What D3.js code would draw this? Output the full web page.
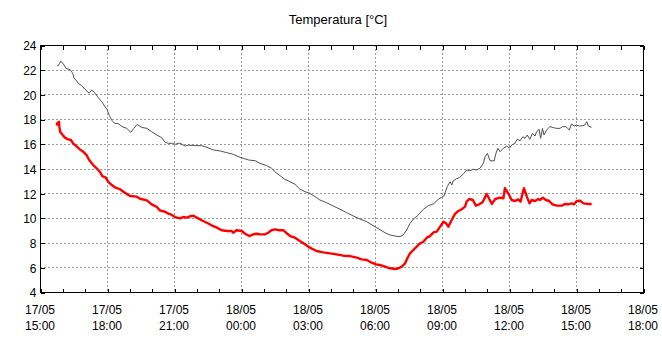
<!DOCTYPE html>
<html>
<head>
<meta charset="utf-8">
<script src="https://cdn.jsdelivr.net/npm/d3@7"></script>
<style>
  html, body { margin: 0; padding: 0; background: #fff; }
  svg { display: block; font-family: "Liberation Sans", Arial, sans-serif; }
</style>
</head>
<body>
<svg id="chart" width="662" height="342"></svg>
<script>
// Title and axis extent
const title = "Temperatura [°C]";
const xStart = "17/05 15:00";
const xEnd = "18/05 18:00";
const yTicks = [4, 6, 8, 10, 12, 14, 16, 18, 20, 22, 24];

// Series 1 (thin dark line)
const series1Times = [
  "17/05 15:46","17/05 15:51","17/05 15:56","17/05 16:03","17/05 16:10","17/05 16:21","17/05 16:28",
  "17/05 16:31","17/05 16:43","17/05 16:52","17/05 17:01","17/05 17:12","17/05 17:19","17/05 17:25",
  "17/05 17:35","17/05 17:46","17/05 17:55","17/05 18:01","17/05 18:06","17/05 18:13","17/05 18:20",
  "17/05 18:30","17/05 18:40","17/05 18:53","17/05 19:04","17/05 19:12","17/05 19:21","17/05 19:33",
  "17/05 19:47","17/05 20:00","17/05 20:14","17/05 20:27","17/05 20:36","17/05 20:45","17/05 20:56",
  "17/05 21:03","17/05 21:12","17/05 21:16","17/05 21:30","17/05 21:38","17/05 21:56","17/05 22:14",
  "17/05 22:28","17/05 22:46","17/05 23:04","17/05 23:22","17/05 23:39","17/05 23:53","18/05 00:06",
  "18/05 00:20","18/05 00:38","18/05 00:51","18/05 01:09","18/05 01:22","18/05 01:34","18/05 01:45",
  "18/05 01:58","18/05 02:12","18/05 02:25","18/05 02:38","18/05 02:52","18/05 03:05","18/05 03:19",
  "18/05 03:32","18/05 03:50","18/05 04:08","18/05 04:26","18/05 04:44","18/05 05:02","18/05 05:20",
  "18/05 05:38","18/05 05:52","18/05 06:05","18/05 06:16","18/05 06:27","18/05 06:40","18/05 06:54",
  "18/05 07:07","18/05 07:16","18/05 07:25","18/05 07:34","18/05 07:43","18/05 07:56","18/05 08:10",
  "18/05 08:23","18/05 08:37","18/05 08:50","18/05 08:59","18/05 09:05","18/05 09:11","18/05 09:14",
  "18/05 09:18","18/05 09:22","18/05 09:26","18/05 09:30","18/05 09:38","18/05 09:48","18/05 09:59",
  "18/05 10:06","18/05 10:15","18/05 10:24","18/05 10:33","18/05 10:42","18/05 10:51","18/05 10:56",
  "18/05 11:02","18/05 11:09","18/05 11:20","18/05 11:25","18/05 11:30","18/05 11:36","18/05 11:45",
  "18/05 11:54","18/05 12:01","18/05 12:07","18/05 12:16","18/05 12:22","18/05 12:30","18/05 12:37",
  "18/05 12:43","18/05 12:49","18/05 12:56","18/05 13:03","18/05 13:10","18/05 13:14","18/05 13:21",
  "18/05 13:25","18/05 13:30","18/05 13:34","18/05 13:41","18/05 13:50","18/05 13:59","18/05 14:08",
  "18/05 14:17","18/05 14:24","18/05 14:33","18/05 14:42","18/05 14:48","18/05 14:55","18/05 15:02",
  "18/05 15:09","18/05 15:18","18/05 15:24","18/05 15:29","18/05 15:33","18/05 15:42"
];
const series1Values = [
  22.30,22.40,22.70,22.45,22.10,22.00,21.70,
  21.35,20.90,20.70,20.40,20.10,20.36,20.20,
  19.80,19.40,19.00,18.74,18.30,17.90,17.66,
  17.63,17.40,17.25,16.93,17.25,17.57,17.33,
  17.25,16.98,16.71,16.50,16.12,16.04,16.04,
  15.96,16.04,16.04,15.82,15.90,15.85,15.85,
  15.72,15.50,15.42,15.28,15.15,14.96,14.83,
  14.69,14.63,14.42,14.23,14.02,13.66,13.42,
  13.12,12.93,12.72,12.34,12.12,11.99,11.72,
  11.45,11.23,10.96,10.70,10.42,10.15,9.91,
  9.69,9.43,9.20,9.00,8.80,8.62,8.53,
  8.48,8.62,9.02,9.56,9.89,10.23,10.70,
  10.99,11.13,11.50,11.67,11.77,12.26,12.53,
  12.75,12.93,12.66,12.99,13.15,13.29,13.61,
  13.88,13.82,13.94,13.88,14.02,14.42,14.96,
  15.23,14.63,14.61,15.23,15.64,15.36,15.64,
  15.82,15.64,15.90,16.04,16.36,16.25,16.57,
  16.44,16.71,16.36,16.85,16.63,16.98,17.17,
  16.44,17.25,16.71,17.12,17.39,17.31,17.25,
  17.25,17.39,17.39,17.12,17.60,17.44,17.52,
  17.44,17.47,17.52,17.79,17.44,17.34
];

// Series 2 (thick red line)
const series2Times = [
  "17/05 15:45","17/05 15:46","17/05 15:51","17/05 15:52","17/05 15:54","17/05 16:01","17/05 16:07",
  "17/05 16:16","17/05 16:23","17/05 16:29","17/05 16:39","17/05 16:47","17/05 16:56","17/05 17:05",
  "17/05 17:12","17/05 17:23","17/05 17:32","17/05 17:41","17/05 17:47","17/05 17:56","17/05 18:03",
  "17/05 18:13","17/05 18:21","17/05 18:35","17/05 18:48","17/05 19:02","17/05 19:20","17/05 19:29",
  "17/05 19:47","17/05 20:00","17/05 20:14","17/05 20:22","17/05 20:36","17/05 20:45","17/05 20:51",
  "17/05 21:03","17/05 21:16","17/05 21:25","17/05 21:34","17/05 21:43","17/05 21:52","17/05 22:01",
  "17/05 22:14","17/05 22:28","17/05 22:41","17/05 22:55","17/05 23:08","17/05 23:22","17/05 23:35",
  "17/05 23:39","17/05 23:48","18/05 00:02","18/05 00:11","18/05 00:22","18/05 00:33","18/05 00:42",
  "18/05 00:51","18/05 01:04","18/05 01:13","18/05 01:22","18/05 01:31","18/05 01:43","18/05 01:54",
  "18/05 02:01","18/05 02:12","18/05 02:25","18/05 02:38","18/05 02:52","18/05 03:05","18/05 03:23",
  "18/05 03:41","18/05 03:59","18/05 04:17","18/05 04:35","18/05 04:53","18/05 05:11","18/05 05:24",
  "18/05 05:38","18/05 05:51","18/05 06:03","18/05 06:13","18/05 06:27","18/05 06:40","18/05 06:54",
  "18/05 07:03","18/05 07:12","18/05 07:21","18/05 07:27","18/05 07:34","18/05 07:43","18/05 07:52",
  "18/05 08:01","18/05 08:10","18/05 08:19","18/05 08:28","18/05 08:37","18/05 08:46","18/05 08:55",
  "18/05 09:04","18/05 09:11","18/05 09:17","18/05 09:26","18/05 09:35","18/05 09:44","18/05 09:53",
  "18/05 10:02","18/05 10:06","18/05 10:13","18/05 10:23","18/05 10:31","18/05 10:40","18/05 10:49",
  "18/05 11:00","18/05 11:07","18/05 11:14","18/05 11:23","18/05 11:36","18/05 11:45","18/05 11:49",
  "18/05 11:58","18/05 12:07","18/05 12:16","18/05 12:25","18/05 12:31","18/05 12:40","18/05 12:48",
  "18/05 12:55","18/05 13:01","18/05 13:10","18/05 13:19","18/05 13:23","18/05 13:31","18/05 13:39",
  "18/05 13:48","18/05 13:57","18/05 14:08","18/05 14:22","18/05 14:30","18/05 14:39","18/05 14:48",
  "18/05 14:55","18/05 15:02","18/05 15:11","18/05 15:20","18/05 15:33","18/05 15:42"
];
const series2Values = [
  17.47,17.66,17.79,17.39,16.98,16.71,16.50,
  16.36,16.31,16.04,15.77,15.55,15.36,15.09,
  14.69,14.28,14.02,13.74,13.39,13.29,12.93,
  12.66,12.48,12.32,12.04,11.77,11.72,11.55,
  11.42,11.10,10.88,10.61,10.50,10.34,10.29,
  10.07,9.96,10.07,10.02,10.13,10.18,10.02,
  9.81,9.61,9.40,9.21,9.00,8.94,8.94,
  8.80,9.00,8.94,8.72,8.53,8.67,8.72,
  8.67,8.67,8.80,9.00,9.07,9.00,9.00,
  8.80,8.53,8.40,8.13,7.86,7.59,7.32,
  7.21,7.13,7.05,6.94,6.91,6.78,6.64,
  6.59,6.37,6.24,6.19,6.05,5.92,5.86,
  5.92,6.05,6.32,6.73,7.13,7.40,7.67,
  7.94,8.07,8.40,8.53,8.83,8.89,9.29,
  9.69,9.56,9.29,9.83,10.32,10.56,10.70,
  10.91,11.31,11.53,11.45,10.99,11.10,11.26,
  11.94,11.53,11.13,11.53,11.64,11.59,12.40,
  11.99,11.45,11.37,11.50,11.31,12.40,11.72,
  11.18,11.45,11.37,11.53,11.45,11.64,11.45,
  11.37,11.10,10.99,10.99,11.13,11.10,11.18,
  11.10,11.37,11.39,11.18,11.13,11.13
];

const parse = d3.timeParse("%d/%m %H:%M");
const fmtDay = d3.timeFormat("%d/%m");
const fmtHour = d3.timeFormat("%H:%M");

const svg = d3.select("#chart");
const plotLeft = 40, plotRight = 643, plotTop = 45, plotBottom = 292;

const x = d3.scaleTime().domain([parse(xStart), parse(xEnd)]).range([plotLeft, plotRight]);
const y = d3.scaleLinear().domain([d3.min(yTicks), d3.max(yTicks)]).range([plotBottom, plotTop]);

const majorX = d3.timeHour.every(3).range(x.domain()[0], d3.timeMinute.offset(x.domain()[1], 1));
const minorX = d3.timeHour.every(1).range(x.domain()[0], d3.timeMinute.offset(x.domain()[1], 1));

// Title
svg.append("text")
  .attr("x", 338).attr("y", 24)
  .attr("text-anchor", "middle")
  .attr("font-size", 13)
  .attr("fill", "#000")
  .text(title);

// Dashed grid
const grid = svg.append("g").attr("shape-rendering", "crispEdges")
  .attr("stroke", "#9a9a9a").attr("stroke-width", 1).attr("stroke-dasharray", "2,2");
grid.selectAll("line.gx").data(majorX.slice(1, -1)).join("line")
  .attr("x1", d => Math.round(x(d)) + 0.5).attr("x2", d => Math.round(x(d)) + 0.5)
  .attr("y1", plotTop).attr("y2", plotBottom);
grid.selectAll("line.gy").data(yTicks.slice(1, -1)).join("line")
  .attr("y1", d => Math.round(y(d)) + 0.5).attr("y2", d => Math.round(y(d)) + 0.5)
  .attr("x1", plotLeft).attr("x2", plotRight);

// Axes: inward ticks on all four sides
const axB = d3.axisBottom(x).tickValues(minorX).tickSizeInner(-4).tickSizeOuter(0).tickFormat("");
const axT = d3.axisTop(x).tickValues(minorX).tickSizeInner(-4).tickSizeOuter(0).tickFormat("");
const axL = d3.axisLeft(y).tickValues(yTicks).tickSizeInner(-4).tickSizeOuter(0).tickPadding(6);
const axR = d3.axisRight(y).tickValues(yTicks).tickSizeInner(-4).tickSizeOuter(0).tickFormat("");

function styleAxis(g) {
  g.attr("shape-rendering", "crispEdges");
  g.select(".domain").remove();
  g.selectAll("line").attr("stroke", "#000");
  g.selectAll("text").attr("font-size", 12).attr("fill", "#000")
    .attr("font-family", "'Liberation Sans', Arial, sans-serif");
}

svg.append("g").attr("transform", `translate(0.5,${plotBottom + 0.5})`).call(axB).call(styleAxis);
svg.append("g").attr("transform", `translate(0.5,${plotTop + 0.5})`).call(axT).call(styleAxis);
svg.append("g").attr("transform", `translate(${plotLeft + 0.5},0.5)`).call(axL).call(styleAxis)
  .selectAll("text").attr("x", -4).attr("dy", "0.36em");
svg.append("g").attr("transform", `translate(${plotRight + 0.5},0.5)`).call(axR).call(styleAxis);

// Two-line date/time labels under the plot
const xl = svg.append("g").attr("font-size", 12).attr("fill", "#000").attr("text-anchor", "middle");
majorX.forEach(d => {
  const t = xl.append("text").attr("x", x(d));
  t.append("tspan").attr("x", x(d)).attr("y", 314).text(fmtDay(d));
  t.append("tspan").attr("x", x(d)).attr("y", 330).text(fmtHour(d));
});

// Plot frame
svg.append("rect")
  .attr("x", plotLeft + 0.5).attr("y", plotTop + 0.5)
  .attr("width", plotRight - plotLeft).attr("height", plotBottom - plotTop)
  .attr("fill", "none").attr("stroke", "#000").attr("stroke-width", 1)
  .attr("shape-rendering", "crispEdges");

// Data lines
const line = d3.line().x(d => x(d.t)).y(d => y(d.v));
const s1 = series1Times.map((t, i) => ({ t: parse(t), v: series1Values[i] }));
const s2 = series2Times.map((t, i) => ({ t: parse(t), v: series2Values[i] }));

svg.append("path").datum(s1)
  .attr("d", line)
  .attr("fill", "none").attr("stroke", "#505050").attr("stroke-width", 1)
  .attr("stroke-linejoin", "miter");

svg.append("path").datum(s2)
  .attr("d", line)
  .attr("fill", "none").attr("stroke", "#ff0000").attr("stroke-width", 2.4)
  .attr("stroke-linejoin", "round");
</script>
</body>
</html>
